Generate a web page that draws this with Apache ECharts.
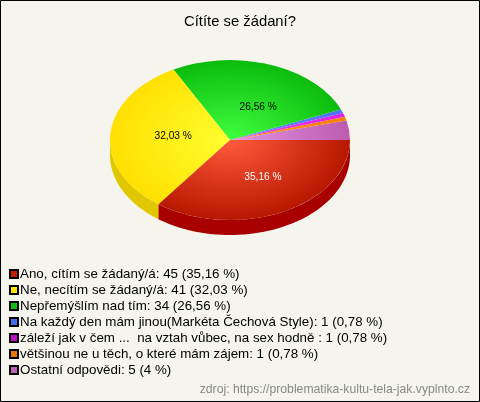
<!DOCTYPE html>
<html><head><meta charset="utf-8">
<style>html,body{margin:0;padding:0;background:#f5f5ed}#c{width:480px;height:402px}</style>
<script src="https://cdn.jsdelivr.net/npm/echarts@6/dist/echarts.min.js"></script>
</head><body><div id="c"></div>
<script>
const categories = ["Ano, cítím se žádaný/á","Ne, necítím se žádaný/á","Nepřemýšlím nad tím","Na každý den mám jinou(Markéta Čechová Style)","záleží jak v čem ...  na vztah vůbec, na sex hodně ","většinou ne u těch, o které mám zájem","Ostatní odpovědi"];
const values = [45,41,34,1,1,1,5];
const percentLabels = ["35,16 %","32,03 %","26,56 %","0,78 %","0,78 %","0,78 %","4 %"];
const titleText = "Cítíte se žádaní?";
const sourceText = "zdroj: https://problematika-kultu-tela-jak.vyplnto.cz";

const legendColors = ["#c81e00","#ffe600","#10c010","#4070f0","#c010c8","#e87800","#c060b8"];
const innerColors  = ["#ff5a3c","#ffff30","#40ff40","#6088ff","#f040f0","#ff9820","#e494e4"];
const outerColors  = ["#b81800","#ffe000","#0cbc0c","#5070ff","#e020e0","#f88000","#bc5cb0"];
const sideColors   = ["#a80000","#e0c800","#0a9a0a","#3050c0","#a010a0","#c06000","#a04898"];
const labelColors  = ["#fff","#000","#000"];
const labelNudge   = [[6,1],[3,-1],[8,5]];
const CX=230, CY=140, RX=120, RY=80, DEPTH=15;
const total = values.reduce((a,b)=>a+b,0);
const starts=[]; values.reduce((a,v,i)=>{starts[i]=a;return a+v},0);
const ang = v => v/total*Math.PI*2;

function renderSlice(idx){
  return function(params, api){
    const a0=ang(starts[idx]), a1=ang(starts[idx]+values[idx]);
    const children=[];
    const s0=Math.min(a0,Math.PI), s1=Math.min(a1,Math.PI);
    if(s1>s0){
      const pts=[], n=Math.max(2,Math.ceil((s1-s0)/0.02));
      for(let i=0;i<=n;i++){const t=s0+(s1-s0)*i/n;pts.push([CX+RX*Math.cos(t),CY+RY*Math.sin(t)]);}
      for(let i=n;i>=0;i--){const t=s0+(s1-s0)*i/n;pts.push([CX+RX*Math.cos(t),CY+DEPTH+RY*Math.sin(t)]);}
      children.push({type:'polygon',shape:{points:pts},style:{fill:sideColors[idx]}});
    }
    children.push({type:'sector',x:CX,y:CY,scaleX:1,scaleY:RY/RX,
      shape:{cx:0,cy:0,r0:0,r:RX,startAngle:a0,endAngle:a1,clockwise:true},
      style:{fill:{type:'radial',x:0,y:0,r:RX,global:true,colorStops:[{offset:0,color:innerColors[idx]},{offset:1,color:outerColors[idx]}]}}});
    if(idx<3){
      const m=(a0+a1)/2;
      children.push({type:'text',x:CX+RX*0.5*Math.cos(m)+labelNudge[idx][0],y:CY+RY*0.5*Math.sin(m)+labelNudge[idx][1],
        style:{text:percentLabels[idx],fill:labelColors[idx],font:'10.2px "Liberation Sans",Arial,sans-serif',align:'center',verticalAlign:'middle'}});
    }
    return {type:'group',children};
  };
}
const legendNames = categories.map((c,i)=>`${c}: ${values[i]} (${percentLabels[i]})`);
const order=[6,5,4,3,2,1,0];
const chart=echarts.init(document.getElementById('c'),null,{renderer:'canvas'});
chart.setOption({
  animation:false,
  backgroundColor:'#f5f5ed',
  title:{text:titleText,left:'center',top:14,textStyle:{fontFamily:'"Liberation Sans",Arial,sans-serif',fontSize:14.8,fontWeight:'normal',color:'#000'},padding:0},
  legend:{orient:'vertical',left:9,top:267,padding:0,itemWidth:8,itemHeight:8,itemGap:2,icon:'rect',selectedMode:false,
    textStyle:{fontFamily:'"Liberation Sans",Arial,sans-serif',fontSize:13.35,color:'#000',padding:[0,0,0,-3],lineHeight:14},
    data:legendNames},
  graphic:[
    {type:'rect',silent:true,z:-1,shape:{x:0.5,y:0.5,width:479,height:401},style:{fill:'none',stroke:'#000',lineWidth:1}},
    {type:'text',right:10,top:384,style:{text:sourceText,fill:'#888',font:'12.2px "Liberation Sans",Arial,sans-serif'}}
  ],
  series: order.map(i=>({type:'custom',name:legendNames[i],coordinateSystem:'none',silent:true,
    itemStyle:{color:legendColors[i],borderColor:'#000',borderWidth:1},
    data:[values[i]],renderItem:renderSlice(i)}))
});
</script></body></html>
